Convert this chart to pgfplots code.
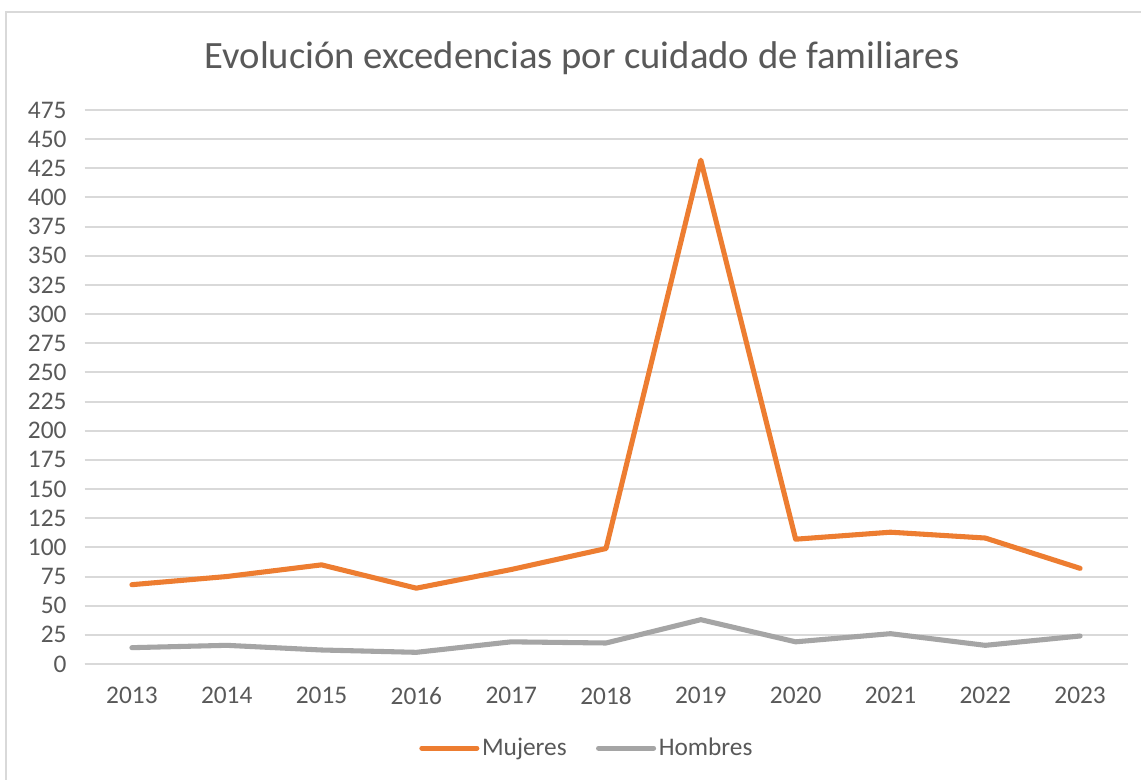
\documentclass[border=0pt]{standalone}
\usepackage{pgfplots}
\pgfplotsset{compat=1.18}
\usepackage{fontspec}
\setmainfont{Carlito}
\definecolor{exOrange}{HTML}{ED7D31}
\definecolor{exGray}{HTML}{A5A5A5}
\definecolor{exText}{HTML}{595959}
\definecolor{exGrid}{HTML}{D9D9D9}

\begin{document}
\begin{tikzpicture}[x=0.75pt,y=0.75pt]
    % page frame, 1141 x 780 px
    \useasboundingbox[fill=white] (0,0) rectangle (1141,780);
    \draw[exGrid, line width=1.5pt] (6,0) -- (6,768) -- (1141,768);

    \node[text=exText, font=\fontsize{29}{34}\selectfont] at (582,722) {Evolución excedencias por cuidado de familiares};

    \begin{axis}[
        at={(84.5*0.75pt,116*0.75pt)}, anchor=south west,
        scale only axis,
        width=1043*0.75pt, height=554*0.75pt,
        xmin=-0.5, xmax=10.5,
        ymin=0, ymax=475,
        xtick={0,...,10},
        xticklabels={2013,2014,2015,2016,2017,2018,2019,2020,2021,2022,2023},
        ytick distance=25,
        axis y line*=left,
        axis x line*=bottom,
        y axis line style={draw=none},
        x axis line style={exGrid, line width=1.5pt, -},
        major tick length=0pt,
        ymajorgrids,
        grid style={exGrid, line width=1.5pt},
        tick label style={text=exText, font=\fontsize{19}{22}\selectfont},
        /pgf/number format/assume math mode=true,
        xticklabel style={yshift=-14pt},
        yticklabel style={xshift=-10pt},
        clip=false,
        legend columns=2,
        legend style={at={(0.482,-0.152)}, anchor=center, draw=none, fill=none,
            font=\fontsize{19}{22}\selectfont, text=exText,
            /tikz/every even column/.append style={column sep=20pt}},
        legend image code/.code={\draw[#1, line cap=round] (0cm,0cm) -- (1.45cm,0cm);},
    ]
        \addplot[exOrange, line width=3.8pt, line join=round, line cap=round] coordinates {
            (0,68) (1,75) (2,85) (3,65) (4,81) (5,99) (6,432) (7,107) (8,113) (9,108) (10,82)
        };
        \addlegendentry{Mujeres}
        \addplot[exGray, line width=3.8pt, line join=round, line cap=round] coordinates {
            (0,14) (1,16) (2,12) (3,10) (4,19) (5,18) (6,38) (7,19) (8,26) (9,16) (10,24)
        };
        \addlegendentry{Hombres}
    \end{axis}
\end{tikzpicture}
\end{document}
